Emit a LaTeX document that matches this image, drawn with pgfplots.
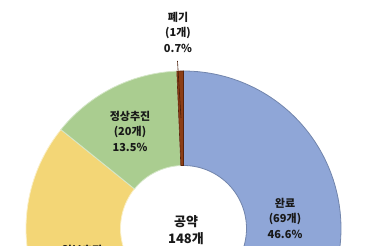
\documentclass[border=0pt]{standalone}
\usepackage{pgfplots}
\pgfplotsset{compat=1.18}
\usepackage{pgfplotstable}
\usepackage{fontspec}
\setmainfont{Noto Sans CJK KR}

\definecolor{cblue}{RGB}{143,166,215}
\definecolor{cyellow}{RGB}{243,214,118}
\definecolor{cgreen}{RGB}{170,205,144}
\definecolor{cbrown}{RGB}{140,62,22}
\definecolor{cbrownd}{RGB}{90,35,10}
\definecolor{ctext}{RGB}{25,25,25}

\pgfplotstableread{
key value
done 69
partial 58
normal 20
scrap 1
}\pledges

\newcommand{\Ro}{157.5}
\newcommand{\Ri}{63}
\newcommand{\donutwedge}[3]{%
  \addplot[#3, domain=0:2, samples=201, variable=\t]
  ({(\t<=1.005 ? \Ro : \Ri)*cos(\t<=1.005 ? #1+\t*(#2-#1) : #2-(\t-1.01)/0.99*(#2-#1))},
   {(\t<=1.005 ? \Ro : \Ri)*sin(\t<=1.005 ? #1+\t*(#2-#1) : #2-(\t-1.01)/0.99*(#2-#1))}) -- cycle;}

\begin{document}
\begin{tikzpicture}
\pgfplotstablegetelem{0}{value}\of\pledges \let\va\pgfplotsretval
\pgfplotstablegetelem{1}{value}\of\pledges \let\vb\pgfplotsretval
\pgfplotstablegetelem{2}{value}\of\pledges \let\vc\pgfplotsretval
\pgfplotstablegetelem{3}{value}\of\pledges \let\vd\pgfplotsretval
\pgfmathsetmacro{\tot}{\va+\vb+\vc+\vd}
\pgfmathsetmacro{\aA}{90}
\pgfmathsetmacro{\aB}{\aA-360*(\va/\tot)}
\pgfmathsetmacro{\aC}{\aB-360*(\vb/\tot)}
\pgfmathsetmacro{\aD}{\aC-360*(\vc/\tot)}
\pgfmathsetmacro{\aE}{\aD-360*(\vd/\tot)}
\begin{axis}[
  x=1pt, y=1pt,
  xmin=-183.5, xmax=186.5, ymin=-17.5, ymax=228.5,
  hide axis, clip=true,
]
\donutwedge{\aA}{\aB}{fill=cblue, draw=black!20!cblue, line width=0.8pt}
\donutwedge{\aB}{\aC}{fill=cyellow, draw=white!60!cyellow, line width=0.8pt}
\donutwedge{\aC}{\aD}{fill=cgreen, draw=white!50!cgreen, line width=0.8pt}
\donutwedge{\aD}{\aE}{fill=cbrown, draw=cbrownd, line width=0.6pt}
\addplot[cbrownd!80!black, line width=0.6pt] coordinates {(-6,167.5) (-2.5,110.5)};

\begin{scope}[every node/.style={align=center, text=ctext, font=\bfseries\fontsize{11}{15.5}\selectfont}]
\node at (axis cs:-5.5,196.5) {폐기\\(1개)\\0.7\%};
\node at (axis cs:-53.5,97.5) {정상추진\\(20개)\\13.5\%};
\node at (axis cs:101.5,10.5) {완료\\(69개)\\46.6\%};
\node[anchor=north, inner sep=0pt] at (axis cs:-101.5,-17) {일부추진\\(58개)\\39.2\%};
\node[font=\bfseries\fontsize{13}{17}\selectfont] at (axis cs:2.5,-1.5) {공약\\148개};
\end{scope}
\end{axis}
\pgfresetboundingbox
\useasboundingbox (current axis.south west) rectangle (current axis.north east);
\end{tikzpicture}
\end{document}
